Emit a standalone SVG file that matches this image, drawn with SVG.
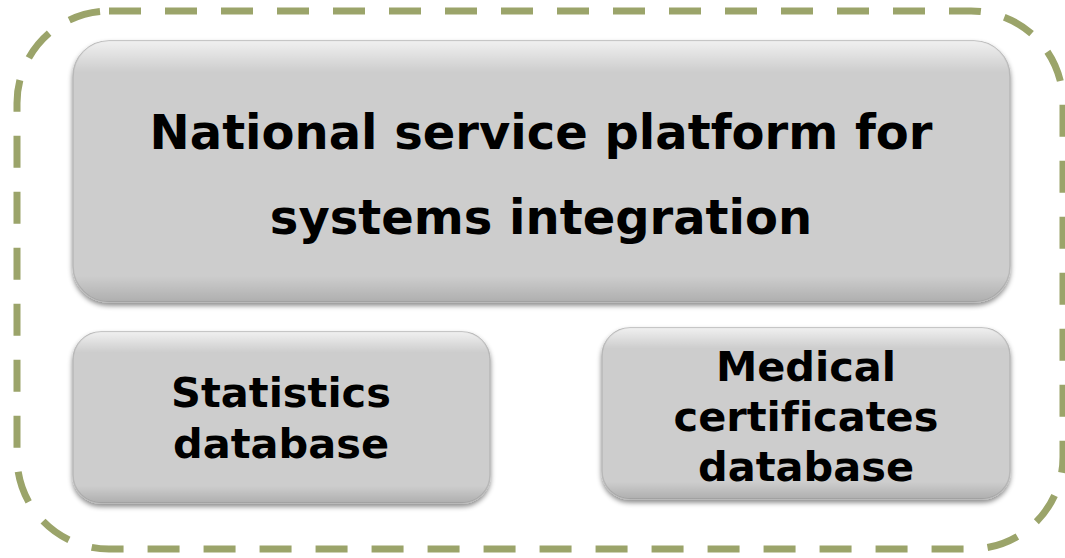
<svg xmlns="http://www.w3.org/2000/svg" width="1065" height="558" viewBox="0 0 1065 558">
<style>
.box{fill:#cdcdcd;stroke:#b8b8b8;stroke-width:1.5;filter:url(#sh)}
.t{font-family:"DejaVu Sans",Verdana,sans-serif;font-weight:bold;fill:#000;text-anchor:middle;font-variant-ligatures:none}
.frame{fill:none;stroke:#9ba46a;stroke-width:7;stroke-dasharray:32 24}
</style>
<defs>
<filter id="sh" x="-5%" y="-5%" width="110%" height="120%">
<feGaussianBlur in="SourceAlpha" stdDeviation="2.5"/>
<feOffset dx="0" dy="3" result="b"/>
<feFlood flood-color="#000" flood-opacity="0.45"/>
<feComposite in2="b" operator="in" result="s"/>
<feMerge><feMergeNode in="s"/><feMergeNode in="SourceGraphic"/></feMerge>
</filter>
<linearGradient id="hi" x1="0" y1="0" x2="0" y2="1">
<stop offset="0" stop-color="#fff" stop-opacity="0.7"/>
<stop offset="0.12" stop-color="#fff" stop-opacity="0"/>
<stop offset="0.9" stop-color="#000" stop-opacity="0"/>
<stop offset="1" stop-color="#000" stop-opacity="0.15"/>
</linearGradient>
</defs>
<rect class="frame" x="17" y="11" width="1046" height="538" rx="92" ry="92"/>
<g id="platform">
<rect class="box" x="73" y="41" width="937" height="261" rx="36"/>
<rect x="73" y="41" width="937" height="261" rx="36" fill="url(#hi)"/>
<text class="t" x="541" y="149" font-size="48">National service platform for</text>
<text class="t" x="541" y="234" font-size="48">systems integration</text>
</g>
<g id="statistics">
<rect class="box" x="73" y="332" width="417" height="171" rx="28"/>
<rect x="73" y="332" width="417" height="171" rx="28" fill="url(#hi)"/>
<text class="t" x="281" y="407" font-size="41.5">Statistics</text>
<text class="t" x="281" y="458" font-size="41.5">database</text>
</g>
<g id="medical">
<rect class="box" x="602" y="328" width="408" height="171" rx="28"/>
<rect x="602" y="328" width="408" height="171" rx="28" fill="url(#hi)"/>
<text class="t" x="806" y="381" font-size="41.5">Medical</text>
<text class="t" x="806" y="431" font-size="41.5">certificates</text>
<text class="t" x="806" y="481" font-size="41.5">database</text>
</g>
<g id="connectors"/>
</svg>
